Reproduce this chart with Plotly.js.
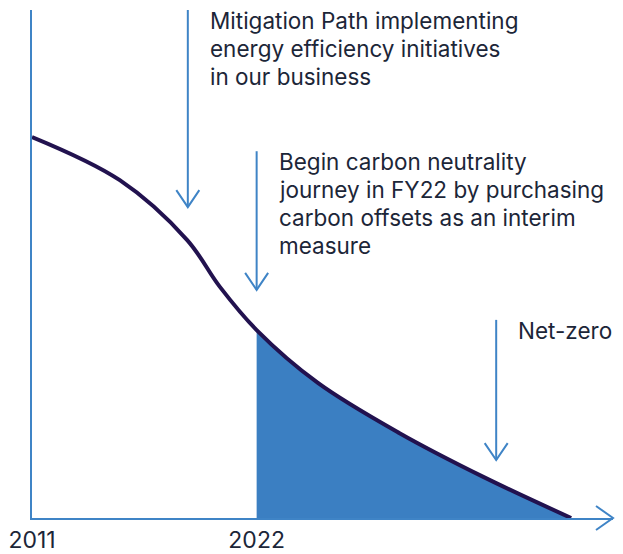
<!DOCTYPE html>
<html>
<head>
<meta charset="utf-8">
<script src="https://cdn.plot.ly/plotly-3.0.1.min.js"></script>
<style>html,body{margin:0;padding:0;background:#fff;}#chart{width:623px;height:554px;}</style>
</head>
<body>
<div id="chart"></div>
<script>
// Emissions pathway (x in years, y in relative units 0-100)
const years = [2011.0, 2015.3, 2018.6, 2020.2, 2022.0, 2025.0, 2029.0, 2033.1, 2037.4];
const emissions = [75.0, 66.5, 54.7, 45.5, 37.0, 26.6, 16.7, 8.1, 0.0];
const offsetStartYear = 2022;

const tickYears = [2011, 2022];
const tickLabels = ['2011', '2022'];

// Annotation arrows: x position, top of shaft, tip of shaft
const arrowX = [2018.63, 2022.0, 2033.73];
const arrowTop = [100.0, 72.2, 39.0];
const arrowTip = [61.2, 44.9, 11.4];
const noteLines = [
  ['Mitigation Path implementing', 'energy efficiency initiatives', 'in our business'],
  ['Begin carbon neutrality', 'journey in FY22 by purchasing', 'carbon offsets as an interim', 'measure'],
  ['Net-zero']
];

const xEnd = 2039.45;
const AXIS = '#3f84c6';
const LINE = '#22124f';
const FILL = '#3b7fc2';
const TEXT = '#1c2638';
const FONT = 'Inter, "Open Sans", sans-serif';

const traces = [
  // blue area under the whole path
  {x: years, y: emissions, type: 'scatter', mode: 'lines', fill: 'tozeroy', fillcolor: FILL,
   line: {width: 0, shape: 'spline', smoothing: 1, color: FILL}, hoverinfo: 'skip'},
  // white mask for the part before the offsets start
  {x: [years[0], offsetStartYear, offsetStartYear, years[0]], y: [0, 0, 100, 100],
   type: 'scatter', mode: 'lines', fill: 'toself', fillcolor: '#ffffff',
   line: {width: 0, color: '#ffffff'}, hoverinfo: 'skip'},
  // the path line
  {x: years, y: emissions, type: 'scatter', mode: 'lines',
   line: {width: 4, shape: 'spline', smoothing: 1, color: LINE}, hoverinfo: 'skip'}
];

const shapes = [];
const annotations = [];
const LINE_GAP = 28;
arrowX.forEach((ax, i) => {
  shapes.push({type: 'line', xref: 'x', yref: 'y', x0: ax, x1: ax, y0: arrowTop[i], y1: arrowTip[i],
               line: {color: AXIS, width: 2}});
  shapes.push({type: 'path', xref: 'x', yref: 'y', xsizemode: 'pixel', ysizemode: 'pixel',
               xanchor: ax, yanchor: arrowTip[i], path: 'M-11.5,17 L0,0 L11.5,17',
               line: {color: AXIS, width: 2}});
  noteLines[i].forEach((t, k) => {
    annotations.push({xref: 'x', yref: 'y', x: ax, y: arrowTop[i], xanchor: 'left', yanchor: 'top',
                      xshift: 20, yshift: 5 - LINE_GAP * k, align: 'left', showarrow: false, text: t,
                      font: {family: FONT, size: 22.5, color: TEXT}});
  });
});
// x-axis arrowhead at the right end of the axis
shapes.push({type: 'path', xref: 'paper', yref: 'paper', xsizemode: 'pixel', ysizemode: 'pixel',
             xanchor: 1, yanchor: 0, path: 'M-17,12 L0,0 L-17,-12',
             line: {color: AXIS, width: 2}});

const layout = {
  width: 623, height: 554,
  margin: {l: 32, r: 10, t: 10, b: 36},
  paper_bgcolor: '#fff', plot_bgcolor: '#fff',
  showlegend: false,
  xaxis: {range: [2011, xEnd], showgrid: false, zeroline: false, showline: true,
          linecolor: AXIS, linewidth: 2, tickvals: tickYears, ticktext: tickLabels,
          ticks: '', ticklabelstandoff: 0, tickfont: {family: FONT, size: 23, color: TEXT}},
  yaxis: {range: [0, 100], showgrid: false, zeroline: false, showline: true,
          linecolor: AXIS, linewidth: 2, showticklabels: false, ticks: ''},
  shapes: shapes,
  annotations: annotations
};

Plotly.newPlot('chart', traces, layout, {displayModeBar: false, staticPlot: true});
</script>
</body>
</html>
